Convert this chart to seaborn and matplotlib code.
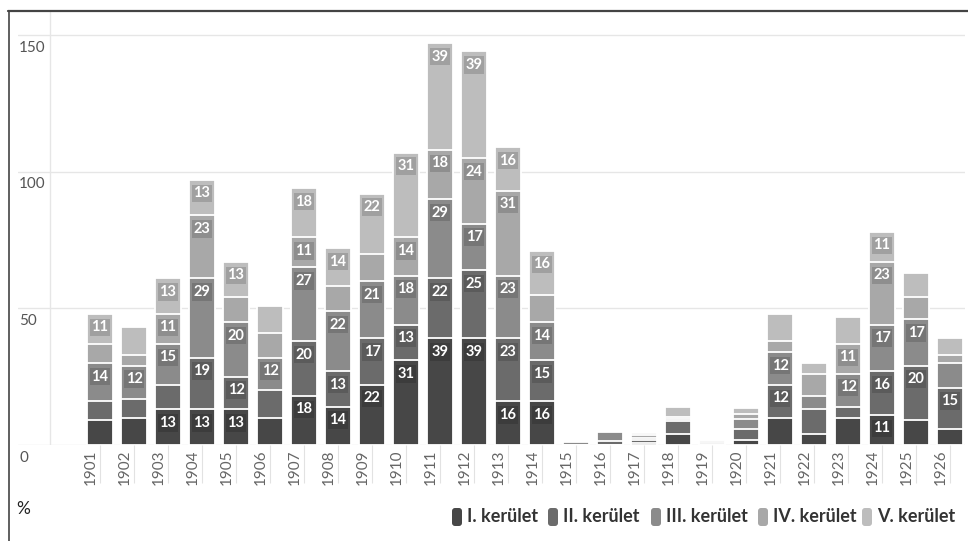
import numpy as np
import pandas as pd
import matplotlib
matplotlib.use("Agg")
import matplotlib.pyplot as plt
import seaborn as sns
from matplotlib.patches import FancyBboxPatch
from matplotlib.lines import Line2D
from matplotlib.transforms import ScaledTranslation

# data (percent, per district, per year)
YEARS = [str(y) for y in range(1901, 1927)]
KER_I = [9, 10, 13, 13, 13, 10, 18, 14, 22, 31, 39, 39, 16, 16, 0, 0, 0.9, 4, 0, 1.8, 10, 4, 10, 11, 9, 6]
KER_II = [7, 7, 9, 19, 12, 10, 20, 13, 17, 13, 22, 25, 23, 15, 0, 1.5, 0.9, 4.7, 0, 3.9, 12, 9, 4, 16, 20, 15]
KER_III = [14, 12, 15, 29, 20, 12, 27, 22, 21, 18, 29, 17, 23, 14, 1.1, 3.2, 0.9, 0.7, 0.7, 3.7, 12, 5, 12, 17, 17, 9]
KER_IV = [7, 4, 11, 23, 9, 9, 11, 9, 10, 14, 18, 24, 31, 10, 0, 0, 0.9, 0.7, 0.6, 2.0, 4, 8, 11, 23, 8, 3]
KER_V = [11, 10, 13, 13, 13, 10, 18, 14, 22, 31, 39, 39, 16, 16, 0, 0, 0.8, 3.8, 0.7, 2.0, 10, 4, 10, 11, 9, 6]
SERIES = ["I. kerület", "II. kerület", "III. kerület", "IV. kerület", "V. kerület"]
Y_TICKS = [0, 50, 100, 150]

COLORS = ["#474747", "#6b6b6b", "#8b8b8b", "#a8a8a8", "#bdbdbd"]
LABEL_MIN = 10.5

sns.set_theme(style="white")
plt.rcParams["font.family"] = ["Lato", "DejaVu Sans"]

df = pd.DataFrame({"year": YEARS, SERIES[0]: KER_I, SERIES[1]: KER_II,
                   SERIES[2]: KER_III, SERIES[3]: KER_IV, SERIES[4]: KER_V})
cum = df[SERIES].cumsum(axis=1)

W, H = 968, 541
fig = plt.figure(figsize=(W / 100, H / 100), dpi=100)
ax = fig.add_axes([18 / W, 96 / H, 947 / W, 434 / H])

# stacked bars: draw cumulative totals from the top layer down
for k in range(len(SERIES) - 1, -1, -1):
    sns.barplot(x=df["year"], y=cum[SERIES[k]], color=COLORS[k], saturation=1,
                width=0.76, edgecolor="white", linewidth=1.3, errorbar=None, ax=ax)

# value labels near the top of each large segment
for k, name in enumerate(SERIES):
    for i, v in enumerate(df[name]):
        if v >= LABEL_MIN:
            ax.annotate(f"{v:.0f}", (i, cum[name][i]), xytext=(0, -13.5),
                        textcoords="offset pixels", ha="center", va="center",
                        color="white", fontsize=10.5, fontweight="bold",
                        bbox=dict(boxstyle="square,pad=0.12", fc="black",
                                  alpha=0.15, ec="none"), zorder=5)

ax.set_xlim(-82 / 34, 865 / 34)
ax.set_ylim(0, 158.8)
ax.set_xlabel("")
ax.set_ylabel("")
sns.despine(ax=ax, left=True, bottom=True)

ax.set_yticks(Y_TICKS)
ax.yaxis.grid(True, color="#e6e6e6", lw=1)
ax.set_axisbelow(True)
ax.tick_params(axis="y", length=0, labelleft=False)
for v in Y_TICKS:
    ax.annotate(str(v), (0, v), xycoords=("axes fraction", "data"),
                xytext=(1, -12.5), textcoords="offset pixels",
                ha="left", va="center", fontsize=11, color="#555555")

ax.axvline(-50 / 34, color="#e6e6e6", lw=1, zorder=0)

ax.tick_params(axis="x", bottom=True, length=27.4, width=0.8, color="#e2e2e2",
               pad=-24.5, labelsize=11, labelcolor="#666666", labelrotation=90)
for lbl in ax.get_xticklabels():
    lbl.set_transform(lbl.get_transform() + ScaledTranslation(-0.09, 0, fig.dpi_scale_trans))

# frame lines at top and left
fig.add_artist(Line2D([8 / W, 1], [1 - 11 / H] * 2, transform=fig.transFigure,
                      color="#444444", lw=1.6))
fig.add_artist(Line2D([8.5 / W] * 2, [0, 1 - 11 / H], transform=fig.transFigure,
                      color="#444444", lw=1.2))

fig.text(16 / W, 1 - 509 / H, "%", fontsize=12.5, color="#222222", va="center", ha="left")

# legend with rounded swatches
for k, xm in enumerate([452, 548, 651, 758, 862]):
    patch = FancyBboxPatch((xm / 100, (H - 526) / 100), 0.10, 0.18,
                           boxstyle="round,pad=0,rounding_size=0.03",
                           transform=fig.dpi_scale_trans, fc=COLORS[k], ec="none")
    fig.add_artist(patch)
    fig.text((xm + 15) / W, 1 - 517 / H, SERIES[k], fontsize=13, fontweight="bold",
             color="#333333", va="center", ha="left")

fig.savefig("out.png", dpi=100)
